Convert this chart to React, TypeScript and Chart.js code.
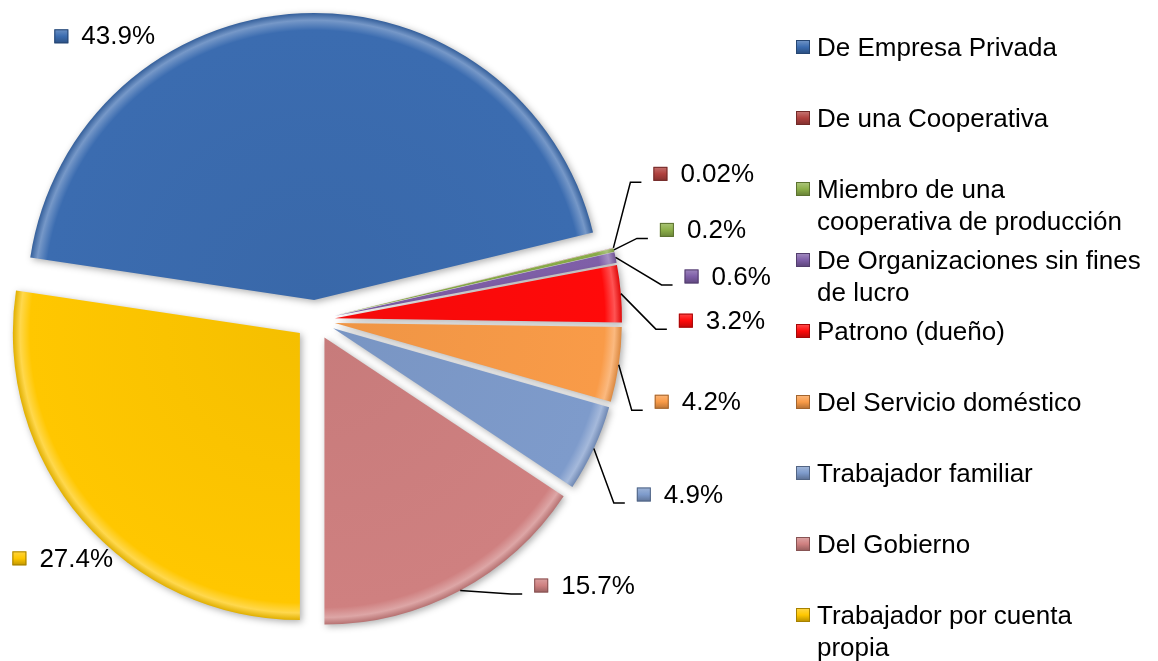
import React, { useEffect, useRef } from "react";
import { Chart, registerables } from "chart.js";

Chart.register(...registerables);

// ---- data ----
const categories = [
  "De Empresa Privada",
  "De una Cooperativa",
  "Miembro de una cooperativa de producción",
  "De Organizaciones sin fines de lucro",
  "Patrono (dueño)",
  "Del Servicio doméstico",
  "Trabajador familiar",
  "Del Gobierno",
  "Trabajador por cuenta propia",
];
const shares = [43.9, 0.02, 0.2, 0.6, 3.2, 4.2, 4.9, 15.7, 27.4];
const shareLabels = ["43.9%", "0.02%", "0.2%", "0.6%", "3.2%", "4.2%", "4.9%", "15.7%", "27.4%"];

// ---- style / layout ----
const sliceColors = ["#3B6CB0", "#B0413E", "#8DB04A", "#7F5FA8", "#FF0A0A", "#F99B48", "#7E9BCB", "#CF8080", "#FFC700"];
const legendFirstLineWords = [0, 0, 3, 4, 0, 0, 0, 0, 3];
const labelShift: [number, number][] = [
  [-247, 23], [40, -74], [46, -20], [69, 19], [58, 27], [36, 37], [43, 46], [74, -5], [-70, 38],
];
const hasLeader = [false, true, true, true, true, true, true, true, false];
const EXPLODE = 20;
const FONT_FAMILY = '"Liberation Sans", Arial, sans-serif';
const FONT = "26px " + FONT_FAMILY;

function mix(hex: string, target: number, amt: number): string {
  const n = parseInt(hex.slice(1), 16);
  const r = (n >> 16) & 255, g = (n >> 8) & 255, b = n & 255;
  const m = (c: number) => Math.round(c + (target - c) * amt);
  return `rgb(${m(r)},${m(g)},${m(b)})`;
}

const explodePlugin = {
  id: "explode",
  afterDatasetUpdate(chart: any, args: any) {
    const meta = chart.getDatasetMeta(args.index);
    const area = chart.chartArea;
    const cx = (area.left + area.right) / 2;
    const cy = (area.top + area.bottom) / 2;
    const ctx = chart.ctx as CanvasRenderingContext2D;
    meta.data.forEach((arc: any, i: number) => {
      const mid = (arc.startAngle + arc.endAngle) / 2;
      const x = cx + Math.cos(mid) * EXPLODE;
      const y = cy + Math.sin(mid) * EXPLODE;
      arc.x = x;
      arc.y = y;
      const r = arc.outerRadius;
      const base = sliceColors[i % sliceColors.length];
      const g = ctx.createRadialGradient(x, y, 0, x, y, r);
      g.addColorStop(0, mix(base, 0, 0.04));
      g.addColorStop(0.94, base);
      g.addColorStop(0.975, mix(base, 255, 0.3));
      g.addColorStop(1, mix(base, 0, 0.12));
      arc.options = { ...arc.options, backgroundColor: g };
    });
  },
  beforeDatasetsDraw(chart: any) {
    const ctx = chart.ctx as CanvasRenderingContext2D;
    ctx.save();
    ctx.shadowColor = "rgba(0,0,0,0.32)";
    ctx.shadowBlur = 7;
    ctx.shadowOffsetX = 2;
    ctx.shadowOffsetY = 2;
  },
  afterDatasetsDraw(chart: any) {
    const ctx = chart.ctx as CanvasRenderingContext2D;
    ctx.restore();
    const meta = chart.getDatasetMeta(0);
    ctx.save();
    ctx.font = FONT;
    ctx.textBaseline = "middle";
    ctx.textAlign = "left";
    meta.data.forEach((arc: any, i: number) => {
      const mid = (arc.startAngle + arc.endAngle) / 2;
      const ax = arc.x + Math.cos(mid) * arc.outerRadius;
      const ay = arc.y + Math.sin(mid) * arc.outerRadius;
      const L = ax + labelShift[i][0];
      const cyL = ay + labelShift[i][1];
      if (hasLeader[i]) {
        const ly = cyL + 8.5;
        const endX = L - 12;
        ctx.beginPath();
        ctx.moveTo(ax, ay);
        ctx.lineTo(endX - 11, ly);
        ctx.lineTo(endX, ly);
        ctx.strokeStyle = "#000";
        ctx.lineWidth = 1.5;
        ctx.stroke();
      }
      const base = sliceColors[i];
      const sq = ctx.createLinearGradient(L, cyL - 7, L, cyL + 7);
      sq.addColorStop(0, mix(base, 255, 0.25));
      sq.addColorStop(0.5, base);
      sq.addColorStop(1, mix(base, 0, 0.25));
      ctx.fillStyle = sq;
      ctx.fillRect(L, cyL - 7, 14, 14);
      ctx.strokeStyle = mix(base, 0, 0.35);
      ctx.lineWidth = 1;
      ctx.strokeRect(L + 0.5, cyL - 6.5, 13, 13);
      ctx.fillStyle = "#000";
      ctx.fillText(shareLabels[i], L + 27, cyL + 1);
    });
    ctx.restore();
  },
};

function legendLines(name: string, firstWords: number): string[] {
  if (!firstWords) return [name];
  const words = name.split(" ");
  return [words.slice(0, firstWords).join(" "), words.slice(firstWords).join(" ")];
}

export default function App() {
  const ref = useRef<HTMLCanvasElement>(null);

  useEffect(() => {
    const total = shares.reduce((a, b) => a + b, 0);
    const beforeLast = shares.slice(0, -1).reduce((a, b) => a + b, 0);
    const rotation = 180 - (360 * beforeLast) / total;
    const chart = new Chart(ref.current as HTMLCanvasElement, {
      type: "pie",
      data: {
        labels: categories,
        datasets: [
          {
            data: shares,
            backgroundColor: sliceColors,
            borderWidth: 0,
            hoverOffset: 0,
          },
        ],
      },
      options: {
        responsive: false,
        animation: false,
        events: [],
        rotation,
        layout: { padding: { left: 28, right: 556, top: 33, bottom: 54 } },
        plugins: { legend: { display: false }, tooltip: { enabled: false } },
      },
      plugins: [explodePlugin as any],
    });
    return () => chart.destroy();
  }, []);

  return (
    <div style={{ position: "absolute", left: 0, top: 0, width: 1158, height: 661, background: "#fff", overflow: "hidden" }}>
      <canvas ref={ref} width={1158} height={661} style={{ position: "absolute", left: 0, top: 0 }} />
      {categories.map((name, i) => {
        const lines = legendLines(name, legendFirstLineWords[i]);
        const top = 31 + i * 71;
        const c = sliceColors[i];
        return (
          <div key={name} style={{ position: "absolute", left: 0, top, width: 1158, height: 64 }}>
            <div
              style={{
                position: "absolute",
                left: 796,
                top: 9,
                width: 14,
                height: 14,
                boxSizing: "border-box",
                background: `linear-gradient(180deg, ${mix(c, 255, 0.25)} 0%, ${c} 50%, ${mix(c, 0, 0.25)} 100%)`,
                border: `1px solid ${mix(c, 0, 0.35)}`,
              }}
            />
            <div
              style={{
                position: "absolute",
                left: 817,
                top: 0,
                font: FONT,
                lineHeight: "32px",
                color: "#000",
                whiteSpace: "nowrap",
              }}
            >
              {lines.map((t, k) => (
                <div key={k}>{t}</div>
              ))}
            </div>
          </div>
        );
      })}
    </div>
  );
}
